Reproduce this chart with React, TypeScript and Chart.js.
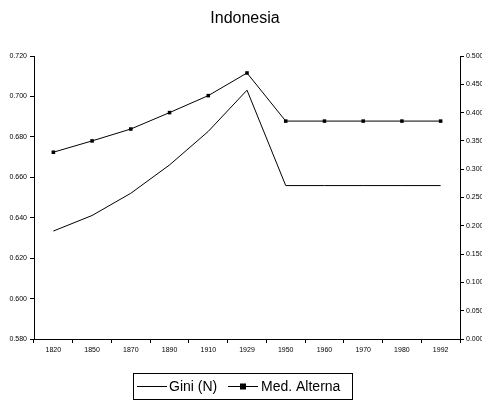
import React, { useEffect, useRef } from "react";
import { Chart, registerables } from "chart.js";

Chart.register(...registerables);

const years = ["1820", "1850", "1870", "1890", "1910", "1929", "1950", "1960", "1970", "1980", "1992"];
const gini = [0.6334, 0.6411, 0.6521, 0.6661, 0.6827, 0.7031, 0.6559, 0.6559, 0.6559, 0.6559, 0.6559];
const medAlterna = [0.33, 0.35, 0.371, 0.4, 0.43, 0.47, 0.385, 0.385, 0.385, 0.385, 0.385];
const titleText = "Indonesia";
const seriesNames = ["Gini (N)", "Med. Alterna"];

const FONT = "Arial, 'Liberation Sans', sans-serif";

export default function App() {
  const ref = useRef<HTMLCanvasElement>(null);
  useEffect(() => {
    if (!ref.current) return;
    const overlay = {
      id: "overlay",
      afterDraw(chart: any) {
        const ctx = chart.ctx;
        ctx.save();
        ctx.fillStyle = "#000";
        ctx.font = `16px ${FONT}`;
        ctx.textAlign = "center";
        ctx.textBaseline = "alphabetic";
        ctx.fillText(titleText, 245, 23);
        // legend box
        ctx.strokeStyle = "#000";
        ctx.lineWidth = 1;
        ctx.strokeRect(133.5, 373.5, 219, 26);
        const cy = 386.5;
        ctx.font = `14px ${FONT}`;
        ctx.textAlign = "left";
        ctx.textBaseline = "middle";
        ctx.beginPath();
        ctx.moveTo(137, cy);
        ctx.lineTo(167, cy);
        ctx.stroke();
        ctx.fillText(seriesNames[0], 169, cy + 1);
        ctx.beginPath();
        ctx.moveTo(228, cy);
        ctx.lineTo(258, cy);
        ctx.stroke();
        ctx.fillRect(240, cy - 3, 6, 6);
        ctx.fillText(seriesNames[1], 261, cy + 1);
        ctx.restore();
      },
    };
    const chart = new Chart(ref.current, {
      type: "line",
      data: {
        labels: years,
        datasets: [
          {
            label: seriesNames[0],
            data: gini,
            yAxisID: "y",
            borderColor: "#000",
            borderWidth: 1,
            pointRadius: 0,
            tension: 0,
          },
          {
            label: seriesNames[1],
            data: medAlterna,
            yAxisID: "y1",
            borderColor: "#000",
            borderWidth: 1,
            pointStyle: "rect",
            pointRadius: 2.5,
            pointBackgroundColor: "#000",
            pointBorderColor: "#000",
            pointBorderWidth: 0,
            tension: 0,
          },
        ],
      },
      options: {
        animation: false,
        responsive: false,
        layout: { padding: { top: 56, bottom: 45, left: 0, right: 0 } },
        plugins: { legend: { display: false }, title: { display: false }, tooltip: { enabled: false } },
        scales: {
          x: {
            offset: true,
            grid: { offset: true, drawOnChartArea: false, drawTicks: true, tickLength: 4, color: "#000" },
            border: { color: "#000", width: 1 },
            ticks: { color: "#000", font: { size: 7, family: FONT }, maxRotation: 0, autoSkip: false, padding: 3 },
            afterFit(scale: any) { scale.height = 20; },
          },
          y: {
            position: "left",
            min: 0.58,
            max: 0.72,
            grid: { drawOnChartArea: false, drawTicks: true, tickLength: 4, color: "#000" },
            border: { color: "#000", width: 1 },
            ticks: {
              stepSize: 0.02,
              color: "#000",
              font: { size: 7, family: FONT },
              padding: 3,
              callback: (v: any) => Number(v).toFixed(3),
            },
            afterFit(scale: any) { scale.width = 34; },
          },
          y1: {
            position: "right",
            min: 0,
            max: 0.5,
            grid: { drawOnChartArea: false, drawTicks: true, tickLength: 4, color: "#000" },
            border: { color: "#000", width: 1 },
            ticks: {
              stepSize: 0.05,
              color: "#000",
              font: { size: 7, family: FONT },
              padding: 2,
              callback: (v: any) => Number(v).toFixed(3),
            },
            afterFit(scale: any) { scale.width = 22; },
          },
        },
      },
      plugins: [overlay],
    });
    return () => chart.destroy();
  }, []);
  return (
    <div style={{ position: "fixed", left: 0, top: 0, width: 482, height: 404, background: "#fff" }}>
      <canvas ref={ref} width={482} height={404} style={{ display: "block" }} />
    </div>
  );
}
